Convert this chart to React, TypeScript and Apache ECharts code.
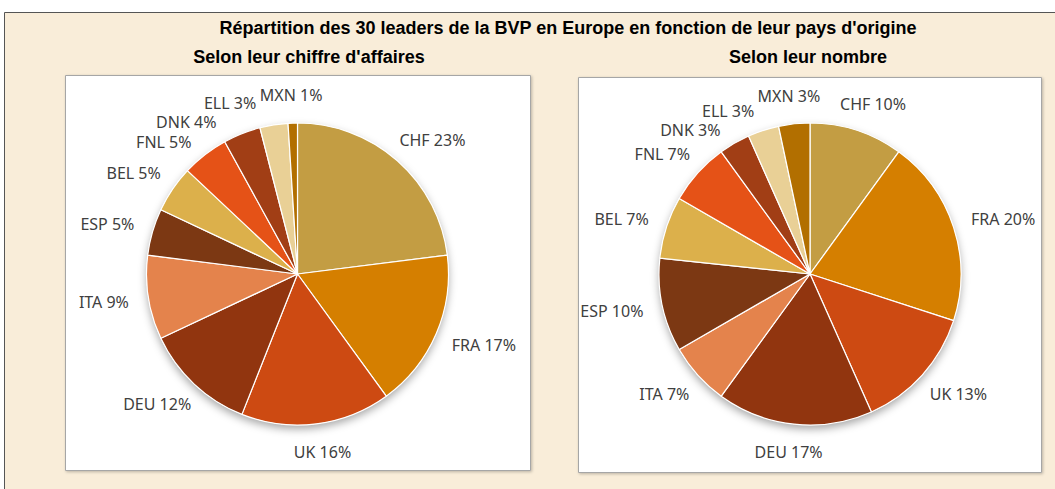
import React, { useEffect, useRef } from "react";
import * as echarts from "echarts";

const countries = ["CHF", "FRA", "UK", "DEU", "ITA", "ESP", "BEL", "FNL", "DNK", "ELL", "MXN"];
const colors = ["#C39D43", "#D57F00", "#CD4A12", "#91350F", "#E4834C", "#7C3813", "#DCB04B", "#E55217", "#A13E15", "#E9D096", "#B26F00"];
const revenueShare = [23, 17, 16, 12, 9, 5, 5, 5, 4, 3, 1];
const leaderCount = [3, 6, 4, 5, 2, 3, 2, 2, 1, 1, 1];

const mainTitle = "Répartition des 30 leaders de la BVP en Europe en fonction de leur pays d'origine";
const leftTitle = "Selon leur chiffre d'affaires";
const rightTitle = "Selon leur nombre";

const LABEL_FONT = "Noto Sans";
const LABEL_SIZE = 16;
const LABEL_H = 19;
const GAP = 20;
const RADIUS = 151;

function labelText(name: string, value: number, total: number) {
  return `${name} ${Math.round((value / total) * 100)}%`;
}

// Excel-like "outside end" placement with a simple counter-clockwise push to resolve overlaps
function computeLabelPositions(values: number[], cx: number, cy: number, r: number) {
  const total = values.reduce((a, b) => a + b, 0);
  const ctx = document.createElement("canvas").getContext("2d")!;
  ctx.font = `${LABEL_SIZE}px "${LABEL_FONT}"`;
  let acc = 0;
  const items = values.map((v, i) => {
    const mid = ((acc + v / 2) / total) * Math.PI * 2;
    acc += v;
    const dx = Math.sin(mid);
    const dy = -Math.cos(mid);
    const w = ctx.measureText(labelText(countries[i], v, total)).width;
    const x = cx + dx * (r + GAP) + (dx * w) / 2;
    const y = cy + dy * (r + GAP) + (dy * 16) / 2;
    return { x, y, w, h: LABEL_H, tx: -Math.cos(mid), ty: -Math.sin(mid) };
  });
  const overlaps = (a: any, b: any) =>
    Math.abs(a.x - b.x) < (a.w + b.w) / 2 + 3 && Math.abs(a.y - b.y) < (a.h + b.h) / 2;
  for (let i = items.length - 2; i >= 0; i--) {
    const it = items[i];
    for (let step = 0; step < 200; step++) {
      let hit = false;
      for (let j = i + 1; j < items.length; j++) if (overlaps(it, items[j])) hit = true;
      if (!hit) break;
      it.x += it.tx;
      it.y += it.ty;
    }
  }
  return items;
}

function pieSeries(values: number[], cx: number, cy: number) {
  const total = values.reduce((a, b) => a + b, 0);
  const pos = computeLabelPositions(values, cx, cy, RADIUS);
  return [
    {
      type: "pie",
      silent: true,
      center: [cx, cy],
      radius: RADIUS,
      data: [{ value: 1, itemStyle: { color: "#ffffff" } }],
      label: { show: false },
      labelLine: { show: false },
      itemStyle: { shadowBlur: 8, shadowOffsetY: 4, shadowColor: "rgba(0,0,0,0.35)" },
      z: 1,
    },
    {
      type: "pie",
      center: [cx, cy],
      radius: RADIUS,
      startAngle: 90,
      clockwise: true,
      avoidLabelOverlap: false,
      data: countries.map((c, i) => ({ name: c, value: values[i], itemStyle: { color: colors[i] } })),
      itemStyle: { borderColor: "#ffffff", borderWidth: 1.2 },
      label: {
        show: true,
        position: "outside",
        formatter: (p: any) => labelText(p.name, p.value, total),
        fontFamily: LABEL_FONT,
        fontSize: LABEL_SIZE,
        color: "#404040",
      },
      labelLine: { show: false },
      labelLayout: (p: any) => ({
        x: pos[p.dataIndex].x,
        y: pos[p.dataIndex].y,
        align: "center",
        verticalAlign: "middle",
        hideOverlap: false,
      }),
      z: 2,
    },
  ];
}

export default function App() {
  const ref = useRef<HTMLDivElement>(null);
  useEffect(() => {
    document.body.style.margin = "0";
    const chart = echarts.init(ref.current!, undefined, { renderer: "svg" });
    chart.setOption({
      animation: false,
      backgroundColor: "#ffffff",
      graphic: [
        { type: "rect", shape: { x: 4.5, y: 12.5, width: 1060, height: 490 }, style: { fill: "#F9EDD9", stroke: "#555555", lineWidth: 1 }, z: -10 },
        { type: "rect", shape: { x: 65.5, y: 75.5, width: 465, height: 395 }, style: { fill: "#ffffff", stroke: "#A6A6A6", lineWidth: 1, shadowBlur: 3, shadowOffsetX: 1, shadowOffsetY: 1, shadowColor: "rgba(0,0,0,0.25)" }, z: -9 },
        { type: "rect", shape: { x: 578.5, y: 77.5, width: 463, height: 395 }, style: { fill: "#ffffff", stroke: "#A6A6A6", lineWidth: 1, shadowBlur: 3, shadowOffsetX: 1, shadowOffsetY: 1, shadowColor: "rgba(0,0,0,0.25)" }, z: -9 },
        { type: "text", x: 568, y: 28, style: { text: mainTitle, fontFamily: "Liberation Sans", fontWeight: "bold", fontSize: 18, fill: "#000000", align: "center", verticalAlign: "middle" } },
        { type: "text", x: 309, y: 57, style: { text: leftTitle, fontFamily: "Liberation Sans", fontWeight: "bold", fontSize: 18, fill: "#000000", align: "center", verticalAlign: "middle" } },
        { type: "text", x: 808, y: 57, style: { text: rightTitle, fontFamily: "Liberation Sans", fontWeight: "bold", fontSize: 18, fill: "#000000", align: "center", verticalAlign: "middle" } },
      ],
      series: [...pieSeries(revenueShare, 297.5, 274), ...pieSeries(leaderCount, 810, 274)],
    });
    return () => chart.dispose();
  }, []);
  return <div ref={ref} style={{ position: "absolute", left: 0, top: 0, width: 1055, height: 489 }} />;
}
